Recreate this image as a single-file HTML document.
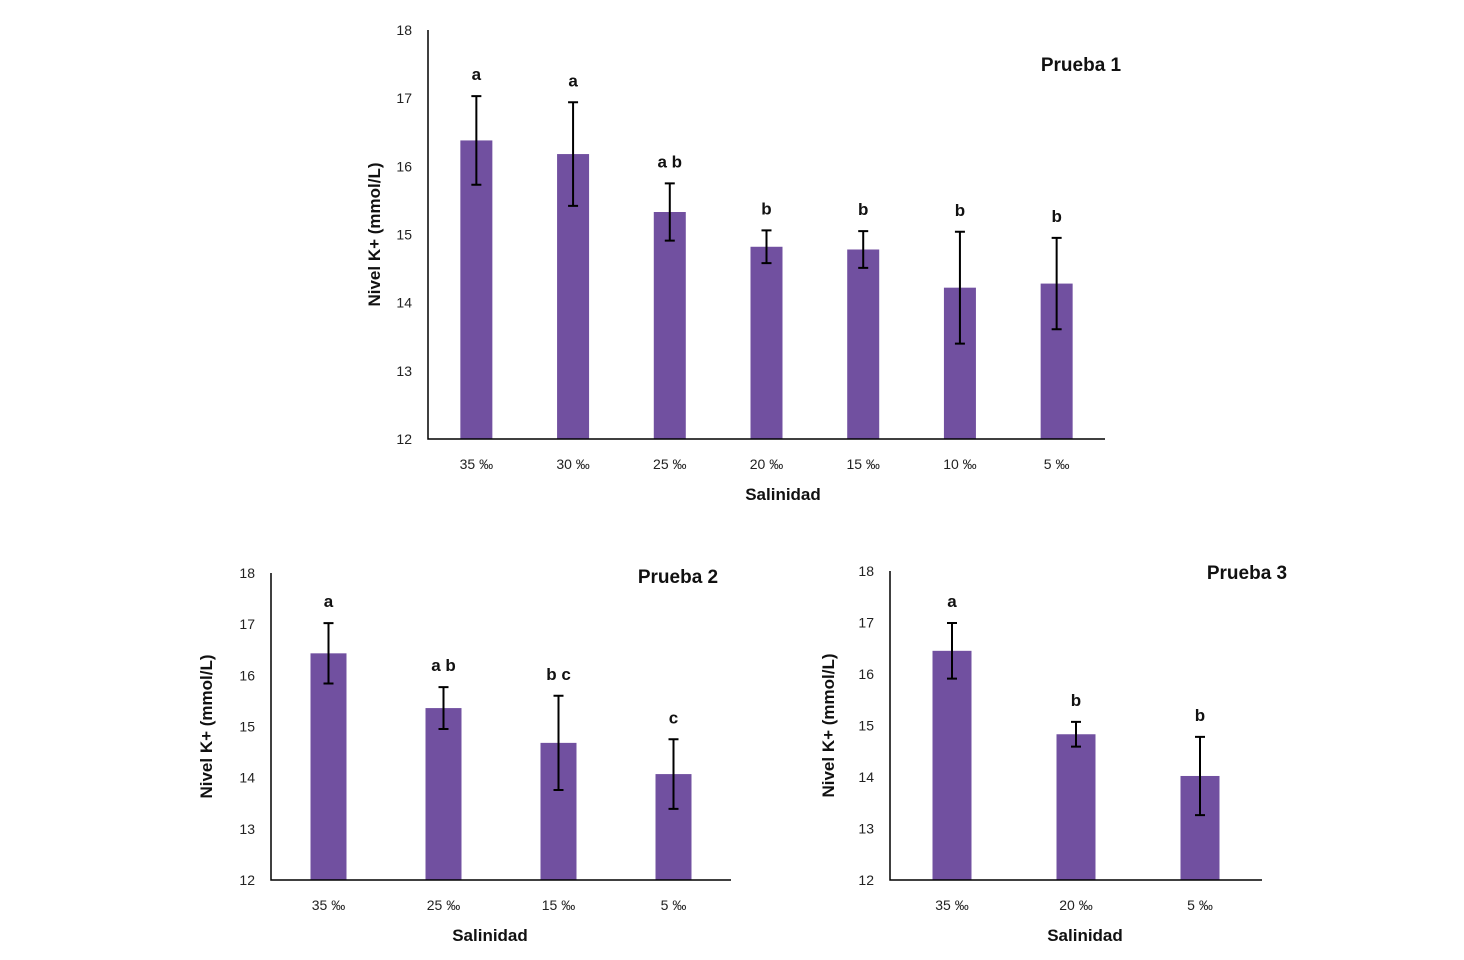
<!DOCTYPE html>
<html><head><meta charset="utf-8"><style>
body{margin:0;background:#fff;}
svg{display:block;font-family:"Liberation Sans",sans-serif;}
</style></head><body>
<svg id="s" width="1464" height="960"></svg>
<script>
const cats1=["35 ‰","30 ‰","25 ‰","20 ‰","15 ‰","10 ‰","5 ‰"];
const vals1=[16.38,16.18,15.33,14.82,14.78,14.22,14.28];
const errs1=[0.65,0.76,0.42,0.24,0.27,0.82,0.67];
const lets1=["a","a","a b","b","b","b","b"];
const cats2=["35 ‰","25 ‰","15 ‰","5 ‰"];
const vals2=[16.43,15.36,14.68,14.07];
const errs2=[0.59,0.41,0.92,0.68];
const lets2=["a","a b","b c","c"];
const cats3=["35 ‰","20 ‰","5 ‰"];
const vals3=[16.45,14.83,14.02];
const errs3=[0.54,0.24,0.76];
const lets3=["a","b","b"];
const yTicks=[12,13,14,15,16,17,18];
const NS="http://www.w3.org/2000/svg";
const svg=document.getElementById('s');
function mk(tag,attrs,parent,text){const e=document.createElementNS(NS,tag);for(const k in attrs)e.setAttribute(k,attrs[k]);if(text!==undefined)e.textContent=text;parent.appendChild(e);return e;}
function chart(o){
 const g=mk('g',{},svg);
 
 
 const y=v=>o.y0-(v-12)*(o.y0-o.y1)/6;
 const step=(o.be-o.bs)/o.cats.length;
 const x=i=>o.bs+step*(i+0.5);
 yTicks.forEach(t=>{const tx=mk('text',{x:o.x0-16,y:y(t)+5,'text-anchor':'end','font-size':14,fill:'#222'},g,t);
  });
 o.vals.forEach((v,i)=>{
  const b=mk('rect',{x:x(i)-o.bw/2,y:y(v),width:o.bw,height:y(12)-y(v),fill:'#7150a0'},g);
  
  const t=y(v+o.errs[i]),bt=y(v-o.errs[i]);
  const e=mk('path',{d:`M${x(i)} ${t}V${bt}M${x(i)-5} ${t}H${x(i)+5}M${x(i)-5} ${bt}H${x(i)+5}`,stroke:'#000','stroke-width':2,fill:'none'},g);
  
  const l=mk('text',{x:x(i),y:t-16,'text-anchor':'middle','font-size':17,'font-weight':'bold',fill:'#111'},g,o.lets[i]);
  
  const c=mk('text',{x:x(i),y:o.y0+30,'text-anchor':'middle','font-size':14,fill:'#222'},g,o.cats[i]);
  
 });
 const ax=mk('path',{d:`M${o.x0} ${o.y1}V${o.y0}H${o.xe}`,stroke:'#000','stroke-width':1.5,fill:'none'},g);
 
 const xt=mk('text',{x:o.xtx,y:o.y0+61,'text-anchor':'middle','font-size':17,'font-weight':'bold',fill:'#111'},g,'Salinidad');
 
 const cy=(o.y0+o.y1)/2;
 const yt=mk('text',{x:o.ytx,y:cy,'text-anchor':'middle','font-size':17,'font-weight':'bold',fill:'#111',transform:`rotate(-90 ${o.ytx} ${cy})`},g,'Nivel K+ (mmol/L)');
 
 const ti=mk('text',{x:o.tx,y:o.ty,'text-anchor':'middle','font-size':19,'font-weight':'bold',fill:'#111'},g,o.title);
 
}
chart({name:'chart-prueba-1',cats:cats1,vals:vals1,errs:errs1,lets:lets1,x0:428,xe:1105,bs:428,be:1105,y0:439,y1:30,bw:32,title:'Prueba 1',tx:1081,ty:71,xtx:783,ytx:380});
chart({name:'chart-prueba-2',cats:cats2,vals:vals2,errs:errs2,lets:lets2,x0:271,xe:731,bs:271,be:731,y0:880,y1:573,bw:36,title:'Prueba 2',tx:678,ty:583,xtx:490,ytx:212});
chart({name:'chart-prueba-3',cats:cats3,vals:vals3,errs:errs3,lets:lets3,x0:890,xe:1262,bs:890,be:1262,y0:880,y1:571,bw:39,title:'Prueba 3',tx:1247,ty:579,xtx:1085,ytx:834});
</script>
</body></html>
